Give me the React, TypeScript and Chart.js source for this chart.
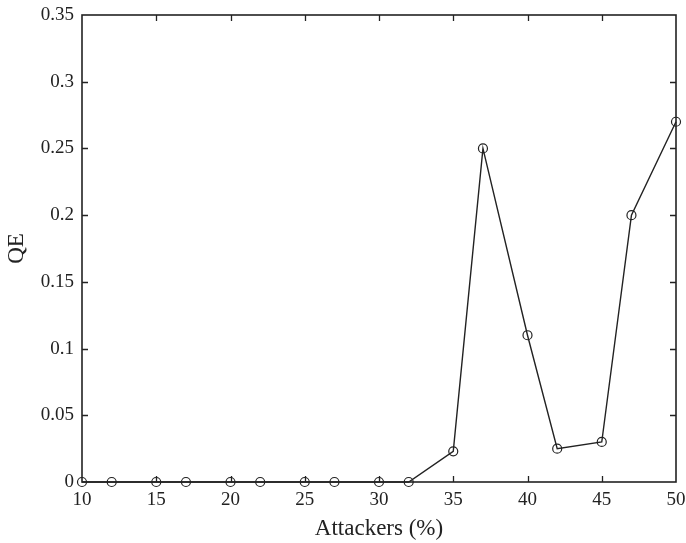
import React, { useEffect, useRef } from 'react';
import { Chart, registerables } from 'chart.js';

Chart.register(...registerables);

const attackers = [10, 12, 15, 17, 20, 22, 25, 27, 30, 32, 35, 37, 40, 42, 45, 47, 50];
const qe = [0, 0, 0, 0, 0, 0, 0, 0, 0, 0, 0.023, 0.25, 0.11, 0.025, 0.03, 0.2, 0.27];
const xTicks = [10, 15, 20, 25, 30, 35, 40, 45, 50];
const yTicks = [0, 0.05, 0.1, 0.15, 0.2, 0.25, 0.3, 0.35];
const xTitle = 'Attackers (%)';
const yTitle = 'QE';

const FONT = '"Liberation Serif", "Times New Roman", serif';
const INK = '#222';

const framePlugin = {
  id: 'frameTicks',
  afterDraw(chart: any) {
    const { ctx, chartArea } = chart;
    const { left, right, top, bottom } = chartArea;
    const xs = chart.scales.x;
    const ys = chart.scales.y;
    const tl = 6;
    ctx.save();
    ctx.strokeStyle = INK;
    ctx.lineWidth = 1.6;
    ctx.strokeRect(left, top, right - left, bottom - top);
    ctx.lineWidth = 1.3;
    ctx.beginPath();
    xTicks.forEach((v) => {
      const px = Math.round(xs.getPixelForValue(v)) + 0.5;
      if (Math.abs(px - left) < 2 || Math.abs(px - right) < 2) return;
      ctx.moveTo(px, bottom);
      ctx.lineTo(px, bottom - tl);
      ctx.moveTo(px, top);
      ctx.lineTo(px, top + tl);
    });
    yTicks.forEach((v) => {
      const py = Math.round(ys.getPixelForValue(v)) + 0.5;
      if (Math.abs(py - top) < 2 || Math.abs(py - bottom) < 2) return;
      ctx.moveTo(left, py);
      ctx.lineTo(left + tl, py);
      ctx.moveTo(right, py);
      ctx.lineTo(right - tl, py);
    });
    ctx.stroke();
    ctx.restore();
  },
};

export default function App() {
  const ref = useRef<HTMLCanvasElement | null>(null);

  useEffect(() => {
    document.body.style.margin = '0';
    const canvas = ref.current;
    if (!canvas) return;
    const chart = new Chart(canvas, {
      type: 'line',
      data: {
        datasets: [
          {
            data: attackers.map((x, i) => ({ x, y: qe[i] })),
            borderColor: INK,
            borderWidth: 1.4,
            pointStyle: 'circle',
            pointRadius: 4.5,
            pointBorderWidth: 1.2,
            pointBorderColor: INK,
            pointBackgroundColor: 'rgba(0,0,0,0)',
            tension: 0,
            fill: false,
            clip: false,
          } as any,
        ],
      },
      options: {
        responsive: false,
        animation: false,
        devicePixelRatio: 1,
        layout: { padding: { top: 15, right: 10, left: 0, bottom: 0 } },
        plugins: {
          legend: { display: false },
          tooltip: { enabled: false },
          title: { display: false },
        },
        scales: {
          x: {
            type: 'linear',
            min: 10,
            max: 50,
            grid: { display: false, drawTicks: false },
            border: { display: false },
            afterBuildTicks: (s: any) => {
              s.ticks = xTicks.map((v) => ({ value: v }));
            },
            afterFit: (s: any) => {
              s.height = 61;
              s.paddingLeft = 0;
              s.paddingRight = 0;
            },
            ticks: {
              padding: 7,
              color: INK,
              font: { family: FONT, size: 19 },
              maxRotation: 0,
              autoSkip: false,
              callback: (v: any) => String(v),
            },
            title: {
              display: true,
              text: xTitle,
              color: INK,
              font: { family: FONT, size: 23 },
              padding: { top: 0, bottom: 0 },
            },
          },
          y: {
            type: 'linear',
            min: 0,
            max: 0.35,
            grid: { display: false, drawTicks: false },
            border: { display: false },
            afterBuildTicks: (s: any) => {
              s.ticks = yTicks.map((v) => ({ value: v }));
            },
            afterFit: (s: any) => {
              s.width = 82;
              s.paddingTop = 0;
              s.paddingBottom = 0;
            },
            ticks: {
              padding: 8,
              color: INK,
              font: { family: FONT, size: 19 },
              autoSkip: false,
              callback: (v: any) => String(parseFloat(Number(v).toFixed(2))),
            },
            title: {
              display: true,
              text: yTitle,
              color: INK,
              font: { family: FONT, size: 23 },
              padding: { top: 3, bottom: 0 },
            },
          },
        },
      },
      plugins: [framePlugin],
    });
    return () => chart.destroy();
  }, []);

  return (
    <div style={{ width: 686, height: 543, background: '#fff' }}>
      <canvas ref={ref} width={686} height={543} style={{ display: 'block' }} />
    </div>
  );
}
